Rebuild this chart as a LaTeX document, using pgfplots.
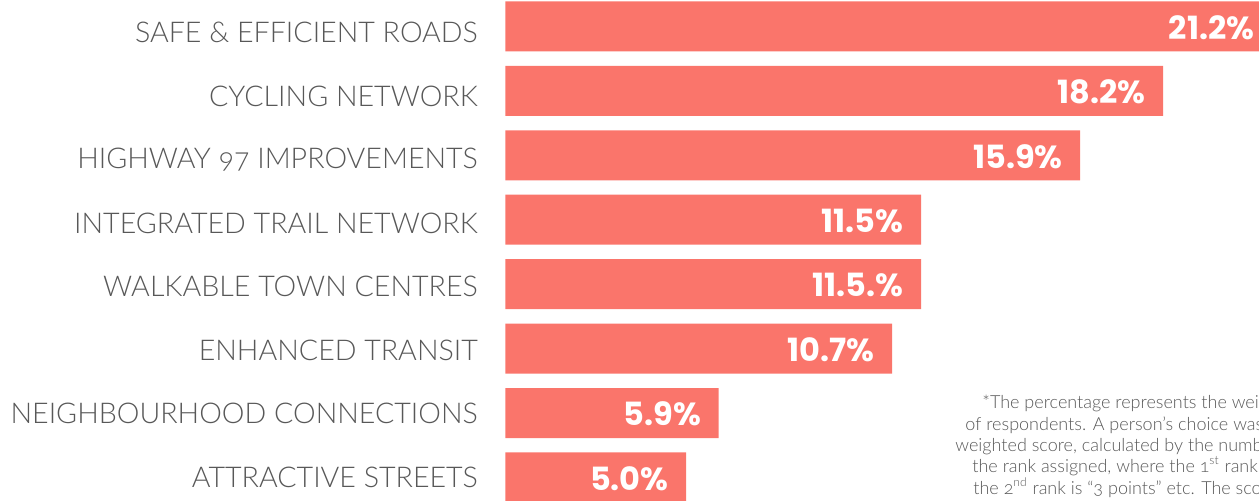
\documentclass[border=0pt]{standalone}
\usepackage{fontspec}
\usepackage{pgfplots}
\usepackage{pgfplotstable}
\pgfplotsset{compat=1.18}
\setmainfont{Lato}
\newfontfamily\lightfont{Lato Light}[Numbers=OldStyle]
\newfontfamily\boldfont{Poppins}[UprightFont=* Bold]
\definecolor{barred}{RGB}{250,117,107}
\definecolor{labelgrey}{RGB}{88,88,88}

% share of weighted score, top to bottom
\pgfplotstableread{
idx share label
0 21.2 21.2\%
1 18.2 18.2\%
2 15.9 15.9\%
3 11.5 11.5\%
4 11.5 11.5.\%
5 10.7 10.7\%
6 5.9 5.9\%
7 5.0 5.0\%
}\prioritydata

\begin{document}
\begin{tikzpicture}
\path[use as bounding box] (0,0) rectangle (629.5pt,250pt);
\begin{axis}[
    at={(252.65pt,0pt)}, anchor=south west,
    scale only axis,
    width=388.6pt, height=250pt,
    xbar, bar width=25pt,
    xmin=0, xmax=21.5,
    ymin=-0.41, ymax=7.35,
    y dir=reverse,
    axis line style={draw=none},
    xtick=\empty,
    ytick={0.09,1.08,2.07,3.05,4.04,5.02,6.01,7.0},
    yticklabels={SAFE \& EFFICIENT ROADS, CYCLING NETWORK, HIGHWAY 97 IMPROVEMENTS,
        INTEGRATED TRAIL NETWORK, WALKABLE TOWN CENTRES, ENHANCED TRANSIT,
        NEIGHBOURHOOD CONNECTIONS, ATTRACTIVE STREETS},
    major tick length=0pt,
    yticklabel style={font=\lightfont\fontsize{14.3}{14}\selectfont, text=labelgrey,
        anchor=east, inner sep=0pt, xshift=-13.5pt},
    clip=true,
    nodes near coords,
    point meta=explicit symbolic,
    every node near coord/.append style={font=\boldfont\fontsize{16}{16}\selectfont,
        text=white, anchor=east, inner sep=0pt, xshift=-8.5pt, yshift=-0.5pt},
]
\addplot[fill=barred, draw=none] table[x=share, y=idx, meta=label] {\prioritydata};
\end{axis}
\begin{scope}[every node/.style={anchor=base west, inner sep=0pt, text=labelgrey,
    font=\lightfont\fontsize{9}{10}\selectfont}]
\node at (491pt,46pt) {*The percentage represents the weighted average};
\node at (482.5pt,35pt) {of respondents. A person’s choice was given a};
\node at (477.5pt,24.2pt) {weighted score, calculated by the number of};
\node at (486pt,13.7pt) {the rank assigned, where the 1\textsuperscript{st} rank is “4 points”,};
\node at (486.5pt,3pt) {the 2\textsuperscript{nd} rank is “3 points” etc. The scores};
\end{scope}
\end{tikzpicture}
\end{document}
